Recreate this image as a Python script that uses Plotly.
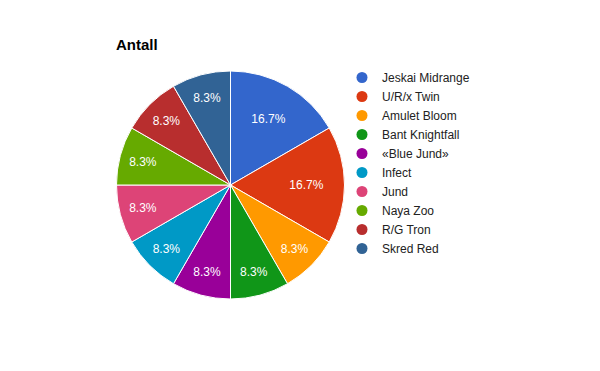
import plotly.graph_objects as go

labels = ["Jeskai Midrange", "U/R/x Twin", "Amulet Bloom", "Bant Knightfall", "«Blue Jund»",
          "Infect", "Jund", "Naya Zoo", "R/G Tron", "Skred Red"]
values = [2, 2, 1, 1, 1, 1, 1, 1, 1, 1]
colors = ["#3366cc", "#dc3912", "#ff9900", "#109618", "#990099",
          "#0099c6", "#dd4477", "#66aa00", "#b82e2e", "#316395"]

W, H = 600, 371
OFF = 8  # page body margin offset
fig = go.Figure()
fig.add_trace(go.Pie(
    labels=labels, values=values, sort=False, direction="clockwise", rotation=0,
    marker=dict(colors=colors, line=dict(color="white", width=1)),
    texttemplate="%{percent:.1%}", textposition="inside", insidetextorientation="horizontal",
    textfont=dict(color="white", size=12, family="Liberation Sans, Arial"),
    showlegend=False, hoverinfo="label+value+percent",
    domain=dict(x=[(116 - OFF) / W, (345 - OFF) / W], y=[1 - (299 - OFF) / H, 1 - (71 - OFF) / H]),
))
for lab, col in zip(labels, colors):
    fig.add_trace(go.Scatter(x=[None], y=[None], mode="markers", name=lab,
                             marker=dict(symbol="circle", size=11, color=col),
                             showlegend=True))

fig.update_layout(
    width=W, height=H, margin=dict(l=0, r=0, t=0, b=0, autoexpand=False),
    paper_bgcolor="white", plot_bgcolor="white",
    font=dict(family="Liberation Sans, Arial", size=12, color="#222222"),
    title=dict(text="<b>Antall</b>", x=(116 - OFF) / W, xanchor="left", y=1 - (45 - OFF) / H,
               yanchor="middle", font=dict(size=15, color="#000000")),
    xaxis=dict(visible=False), yaxis=dict(visible=False),
    legend=dict(x=(342 - OFF) / W, y=1 - (63 - OFF) / H, xanchor="left", yanchor="top",
                font=dict(size=12, color="#222222"), tracegroupgap=0, itemwidth=30,
                bgcolor="rgba(0,0,0,0)"),
)
fig.write_html("out.html")
